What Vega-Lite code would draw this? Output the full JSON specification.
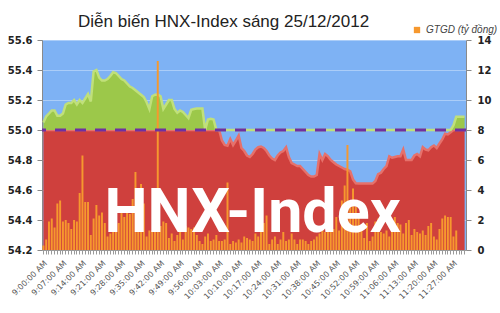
{
"$schema": "https://vega.github.io/schema/vega-lite/v6.json",
"width": 424, "height": 210,
"autosize": {"type": "none"},
"padding": {"left": 42, "top": 40, "right": 34, "bottom": 63},
"background": "white",
"config": {"view": {"fill": "#7eb2f4", "stroke": null}},
"title": {"text": "Diễn biến HNX-Index sáng 25/12/2012", "anchor": "start", "frame": "group", "font": "Liberation Sans", "fontSize": 17, "fontWeight": "normal", "color": "#222222", "dx": 36, "baseline": "alphabetic", "offset": 0, "dy": 19},
"data": {"values": [
{"t":"9:00:00 AM","idx":55.05,"vol":0.3},{"t":"9:01:00 AM","idx":55.09,"vol":0.7},{"t":"9:02:00 AM","idx":55.11,"vol":1.9},{"t":"9:03:00 AM","idx":55.13,"vol":2.1},{"t":"9:04:00 AM","idx":55.13,"vol":1.5},{"t":"9:05:00 AM","idx":55.095,"vol":3.1},{"t":"9:06:00 AM","idx":55.095,"vol":3.3},{"t":"9:07:00 AM","idx":55.11,"vol":1.9},{"t":"9:08:00 AM","idx":55.17,"vol":2.0},{"t":"9:09:00 AM","idx":55.18,"vol":1.8},
{"t":"9:10:00 AM","idx":55.18,"vol":1.4},{"t":"9:11:00 AM","idx":55.2,"vol":2.0},{"t":"9:12:00 AM","idx":55.17,"vol":1.9},{"t":"9:13:00 AM","idx":55.2,"vol":3.8},{"t":"9:14:00 AM","idx":55.18,"vol":6.3},{"t":"9:15:00 AM","idx":55.21,"vol":3.2},{"t":"9:16:00 AM","idx":55.24,"vol":3.2},{"t":"9:17:00 AM","idx":55.19,"vol":1.0},{"t":"9:18:00 AM","idx":55.39,"vol":2.1},{"t":"9:19:00 AM","idx":55.4,"vol":3.0},
{"t":"9:20:00 AM","idx":55.35,"vol":2.3},{"t":"9:21:00 AM","idx":55.33,"vol":2.5},{"t":"9:22:00 AM","idx":55.33,"vol":1.8},{"t":"9:23:00 AM","idx":55.34,"vol":0.9},{"t":"9:24:00 AM","idx":55.36,"vol":1.1},{"t":"9:25:00 AM","idx":55.385,"vol":1.5},{"t":"9:26:00 AM","idx":55.38,"vol":1.2},{"t":"9:27:00 AM","idx":55.36,"vol":1.8},{"t":"9:28:00 AM","idx":55.34,"vol":2.9},{"t":"9:29:00 AM","idx":55.33,"vol":2.2},
{"t":"9:30:00 AM","idx":55.31,"vol":2.5},{"t":"9:31:00 AM","idx":55.29,"vol":2.4},{"t":"9:32:00 AM","idx":55.28,"vol":3.4},{"t":"9:33:00 AM","idx":55.265,"vol":5.2},{"t":"9:34:00 AM","idx":55.25,"vol":2.0},{"t":"9:35:00 AM","idx":55.235,"vol":4.4},{"t":"9:36:00 AM","idx":55.22,"vol":3.1},{"t":"9:37:00 AM","idx":55.185,"vol":0.9},{"t":"9:38:00 AM","idx":55.14,"vol":1.3},{"t":"9:39:00 AM","idx":55.225,"vol":1.3},
{"t":"9:40:00 AM","idx":55.235,"vol":1.5},{"t":"9:41:00 AM","idx":55.237,"vol":12.6},{"t":"9:42:00 AM","idx":55.225,"vol":1.6},{"t":"9:43:00 AM","idx":55.14,"vol":1.9},{"t":"9:44:00 AM","idx":55.17,"vol":1.8},{"t":"9:45:00 AM","idx":55.2,"vol":0.8},{"t":"9:46:00 AM","idx":55.2,"vol":1.1},{"t":"9:47:00 AM","idx":55.14,"vol":0.6},{"t":"9:48:00 AM","idx":55.115,"vol":1.0},{"t":"9:49:00 AM","idx":55.13,"vol":1.2},
{"t":"9:50:00 AM","idx":55.12,"vol":0.7},{"t":"9:51:00 AM","idx":55.1,"vol":1.6},{"t":"9:52:00 AM","idx":55.08,"vol":1.5},{"t":"9:53:00 AM","idx":55.135,"vol":1.4},{"t":"9:54:00 AM","idx":55.14,"vol":1.5},{"t":"9:55:00 AM","idx":55.143,"vol":1.0},{"t":"9:56:00 AM","idx":55.143,"vol":0.6},{"t":"9:57:00 AM","idx":55.143,"vol":0.4},{"t":"9:58:00 AM","idx":55.0,"vol":0.9},{"t":"9:59:00 AM","idx":55.07,"vol":1.1},
{"t":"10:00:00 AM","idx":55.075,"vol":0.6},{"t":"10:01:00 AM","idx":55.07,"vol":0.7},{"t":"10:02:00 AM","idx":55.0,"vol":1.0},{"t":"10:03:00 AM","idx":55.0,"vol":0.6},{"t":"10:04:00 AM","idx":54.93,"vol":0.6},{"t":"10:05:00 AM","idx":54.9,"vol":0.7},{"t":"10:06:00 AM","idx":54.895,"vol":4.5},{"t":"10:07:00 AM","idx":54.94,"vol":0.4},{"t":"10:08:00 AM","idx":54.9,"vol":0.6},{"t":"10:09:00 AM","idx":54.93,"vol":0.5},
{"t":"10:10:00 AM","idx":54.963,"vol":0.7},{"t":"10:11:00 AM","idx":54.88,"vol":0.5},{"t":"10:12:00 AM","idx":54.86,"vol":0.9},{"t":"10:13:00 AM","idx":54.83,"vol":0.8},{"t":"10:14:00 AM","idx":54.82,"vol":0.7},{"t":"10:15:00 AM","idx":54.84,"vol":0.6},{"t":"10:16:00 AM","idx":54.87,"vol":1.1},{"t":"10:17:00 AM","idx":54.885,"vol":0.9},{"t":"10:18:00 AM","idx":54.89,"vol":1.3},{"t":"10:19:00 AM","idx":54.88,"vol":1.8},
{"t":"10:20:00 AM","idx":54.86,"vol":2.3},{"t":"10:21:00 AM","idx":54.83,"vol":0.4},{"t":"10:22:00 AM","idx":54.81,"vol":0.7},{"t":"10:23:00 AM","idx":54.8,"vol":0.9},{"t":"10:24:00 AM","idx":54.83,"vol":0.4},{"t":"10:25:00 AM","idx":54.85,"vol":0.7},{"t":"10:26:00 AM","idx":54.86,"vol":1.2},{"t":"10:27:00 AM","idx":54.885,"vol":0.6},{"t":"10:28:00 AM","idx":54.82,"vol":0.7},{"t":"10:29:00 AM","idx":54.78,"vol":1.1},
{"t":"10:30:00 AM","idx":54.77,"vol":0.7},{"t":"10:31:00 AM","idx":54.76,"vol":0.4},{"t":"10:32:00 AM","idx":54.76,"vol":0.7},{"t":"10:33:00 AM","idx":54.74,"vol":0.7},{"t":"10:34:00 AM","idx":54.72,"vol":0.6},{"t":"10:35:00 AM","idx":54.7,"vol":0.4},{"t":"10:36:00 AM","idx":54.69,"vol":0.6},{"t":"10:37:00 AM","idx":54.69,"vol":0.7},{"t":"10:38:00 AM","idx":54.7,"vol":0.9},{"t":"10:39:00 AM","idx":54.84,"vol":1.1},
{"t":"10:40:00 AM","idx":54.8,"vol":1.3},{"t":"10:41:00 AM","idx":54.84,"vol":1.2},{"t":"10:42:00 AM","idx":54.825,"vol":1.8},{"t":"10:43:00 AM","idx":54.8,"vol":3.2},{"t":"10:44:00 AM","idx":54.785,"vol":1.4},{"t":"10:45:00 AM","idx":54.77,"vol":2.2},{"t":"10:46:00 AM","idx":54.76,"vol":1.3},{"t":"10:47:00 AM","idx":54.75,"vol":3.3},{"t":"10:48:00 AM","idx":54.74,"vol":4.3},{"t":"10:49:00 AM","idx":54.735,"vol":7.0},
{"t":"10:50:00 AM","idx":54.725,"vol":3.1},{"t":"10:51:00 AM","idx":54.67,"vol":4.1},{"t":"10:52:00 AM","idx":54.645,"vol":2.9},{"t":"10:53:00 AM","idx":54.643,"vol":2.3},{"t":"10:54:00 AM","idx":54.643,"vol":1.4},{"t":"10:55:00 AM","idx":54.643,"vol":0.8},{"t":"10:56:00 AM","idx":54.643,"vol":1.8},{"t":"10:57:00 AM","idx":54.643,"vol":0.6},{"t":"10:58:00 AM","idx":54.643,"vol":0.9},{"t":"10:59:00 AM","idx":54.66,"vol":1.9},
{"t":"11:00:00 AM","idx":54.705,"vol":2.1},{"t":"11:01:00 AM","idx":54.715,"vol":1.2},{"t":"11:02:00 AM","idx":54.74,"vol":1.1},{"t":"11:03:00 AM","idx":54.76,"vol":1.3},{"t":"11:04:00 AM","idx":54.825,"vol":0.9},{"t":"11:05:00 AM","idx":54.815,"vol":1.4},{"t":"11:06:00 AM","idx":54.82,"vol":2.2},{"t":"11:07:00 AM","idx":54.825,"vol":1.8},{"t":"11:08:00 AM","idx":54.825,"vol":1.7},{"t":"11:09:00 AM","idx":54.87,"vol":1.1},
{"t":"11:10:00 AM","idx":54.8,"vol":1.8},{"t":"11:11:00 AM","idx":54.8,"vol":2.0},{"t":"11:12:00 AM","idx":54.8,"vol":1.0},{"t":"11:13:00 AM","idx":54.83,"vol":1.4},{"t":"11:14:00 AM","idx":54.84,"vol":1.2},{"t":"11:15:00 AM","idx":54.825,"vol":1.1},{"t":"11:16:00 AM","idx":54.885,"vol":1.3},{"t":"11:17:00 AM","idx":54.87,"vol":1.0},{"t":"11:18:00 AM","idx":54.865,"vol":1.6},{"t":"11:19:00 AM","idx":54.885,"vol":1.8},
{"t":"11:20:00 AM","idx":54.897,"vol":0.9},{"t":"11:21:00 AM","idx":54.88,"vol":0.7},{"t":"11:22:00 AM","idx":54.91,"vol":1.4},{"t":"11:23:00 AM","idx":54.937,"vol":2.1},{"t":"11:24:00 AM","idx":54.975,"vol":2.3},{"t":"11:25:00 AM","idx":54.97,"vol":2.2},{"t":"11:26:00 AM","idx":54.985,"vol":2.2},{"t":"11:27:00 AM","idx":55.03,"vol":0.9},{"t":"11:28:00 AM","idx":55.088,"vol":1.3},{"t":"11:29:00 AM","idx":55.088,"vol":0},
{"t":"11:30:00 AM","idx":55.088,"vol":0},{"t":"11:31:00 AM","idx":55.088,"vol":0}
]},
"layer": [
{
 "mark": {"type": "area", "color": "#cf403d", "opacity": 1, "line": {"color": "#e6716b", "strokeWidth": 2.5}},
 "encoding": {
  "x": {"field": "t", "type": "ordinal", "sort": null, "scale": {"type": "band", "paddingInner": 0, "paddingOuter": 0},
   "axis": {"title": null, "labelAngle": -45, "labelOverlap": false, "labelExpr": "indexof(['9:00:00 AM','9:07:00 AM','9:14:00 AM','9:21:00 AM','9:28:00 AM','9:35:00 AM','9:42:00 AM','9:49:00 AM','9:56:00 AM','10:03:00 AM','10:10:00 AM','10:17:00 AM','10:24:00 AM','10:31:00 AM','10:38:00 AM','10:45:00 AM','10:52:00 AM','10:59:00 AM','11:06:00 AM','11:13:00 AM','11:20:00 AM','11:27:00 AM'], datum.label) >= 0 ? datum.label : ''", "labelFont": "DejaVu Sans", "labelFontSize": 8, "labelColor": "#555555", "tickSize": 4, "tickColor": "#9a9a9a", "domainColor": "#9a9a9a", "labelPadding": 5}},
  "y": {"field": "idx", "type": "quantitative", "scale": {"domain": [54.2, 55], "range": [210, 90], "clamp": true, "nice": false, "zero": false}, "axis": null},
  "y2": {"datum": 54.2}
 }
},
{
 "mark": {"type": "area", "color": "#9cc84a", "opacity": 1, "line": {"color": "#c0e07a", "strokeWidth": 2.5}},
 "encoding": {
  "x": {"field": "t", "type": "ordinal", "sort": null, "scale": {"type": "band", "paddingInner": 0, "paddingOuter": 0},
   "axis": {"title": null, "labelAngle": -45, "labelOverlap": false, "labelExpr": "indexof(['9:00:00 AM','9:07:00 AM','9:14:00 AM','9:21:00 AM','9:28:00 AM','9:35:00 AM','9:42:00 AM','9:49:00 AM','9:56:00 AM','10:03:00 AM','10:10:00 AM','10:17:00 AM','10:24:00 AM','10:31:00 AM','10:38:00 AM','10:45:00 AM','10:52:00 AM','10:59:00 AM','11:06:00 AM','11:13:00 AM','11:20:00 AM','11:27:00 AM'], datum.label) >= 0 ? datum.label : ''", "labelFont": "DejaVu Sans", "labelFontSize": 8, "labelColor": "#555555", "tickSize": 4, "tickColor": "#9a9a9a", "domainColor": "#9a9a9a", "labelPadding": 5}},
  "y": {"field": "idx", "type": "quantitative", "scale": {"domain": [55, 55.6], "range": [90, 0], "clamp": true, "nice": false, "zero": false}, "axis": null},
  "y2": {"datum": 55}
 }
},
{
 "mark": {"type": "bar", "width": {"band": 0.7}},
 "encoding": {
  "x": {"field": "t", "type": "ordinal", "sort": null, "scale": {"type": "band", "paddingInner": 0, "paddingOuter": 0},
   "axis": {"title": null, "labelAngle": -45, "labelOverlap": false, "labelExpr": "indexof(['9:00:00 AM','9:07:00 AM','9:14:00 AM','9:21:00 AM','9:28:00 AM','9:35:00 AM','9:42:00 AM','9:49:00 AM','9:56:00 AM','10:03:00 AM','10:10:00 AM','10:17:00 AM','10:24:00 AM','10:31:00 AM','10:38:00 AM','10:45:00 AM','10:52:00 AM','10:59:00 AM','11:06:00 AM','11:13:00 AM','11:20:00 AM','11:27:00 AM'], datum.label) >= 0 ? datum.label : ''", "labelFont": "DejaVu Sans", "labelFontSize": 8, "labelColor": "#555555", "tickSize": 4, "tickColor": "#9a9a9a", "domainColor": "#9a9a9a", "labelPadding": 5}},
  "y": {"field": "vol", "type": "quantitative", "scale": {"domain": [0, 14], "nice": false},
   "axis": {"orient": "right", "values": [0, 2, 4, 6, 8, 10, 12, 14], "title": null, "grid": false, "labelFont": "DejaVu Sans", "labelFontWeight": "bold", "labelFontSize": 10, "labelColor": "#222222", "tickColor": "#8a8a8a", "tickSize": 5, "domainColor": "#8a8a8a", "labelPadding": 6}},
  "color": {"datum": "GTGD (tỷ đồng)", "type": "nominal", "scale": {"range": ["#f6982e"]},
   "legend": {"orient": "none", "legendX": 370, "legendY": -15, "title": null, "symbolType": "square", "symbolSize": 40, "labelFont": "Liberation Sans", "labelFontStyle": "italic", "labelFontSize": 10, "labelColor": "#444444", "labelOffset": 4}}
 }
},
{
 "data": {"values": [{}]},
 "mark": {"type": "rule", "color": "#7030a0", "strokeWidth": 3, "strokeDash": [11, 9]},
 "encoding": {
  "y": {"datum": 55, "type": "quantitative", "scale": {"domain": [54.2, 55.6], "nice": false, "zero": false},
   "axis": {"orient": "left", "values": [54.2, 54.4, 54.6, 54.8, 55.0, 55.2, 55.4, 55.6], "format": ".1f", "title": null, "grid": true, "gridColor": "#ffffff", "gridOpacity": 0.35, "labelFont": "DejaVu Sans", "labelFontWeight": "bold", "labelFontSize": 10, "labelColor": "#222222", "tickColor": "#8a8a8a", "tickSize": 5, "domainColor": "#8a8a8a", "labelPadding": 5}}
 }
},
{
 "data": {"values": [{}]},
 "mark": {"type": "text", "text": "HNX-Index", "font": "Roboto", "fontWeight": "bold", "fontSize": 61, "color": "#ffffff", "align": "center", "baseline": "alphabetic"},
 "encoding": {
  "x": {"datum": "10:15:00 AM", "type": "ordinal", "scale": {"type": "band", "paddingInner": 0, "paddingOuter": 0},
   "axis": {"title": null, "labelAngle": -45, "labelOverlap": false, "labelExpr": "indexof(['9:00:00 AM','9:07:00 AM','9:14:00 AM','9:21:00 AM','9:28:00 AM','9:35:00 AM','9:42:00 AM','9:49:00 AM','9:56:00 AM','10:03:00 AM','10:10:00 AM','10:17:00 AM','10:24:00 AM','10:31:00 AM','10:38:00 AM','10:45:00 AM','10:52:00 AM','10:59:00 AM','11:06:00 AM','11:13:00 AM','11:20:00 AM','11:27:00 AM'], datum.label) >= 0 ? datum.label : ''", "labelFont": "DejaVu Sans", "labelFontSize": 8, "labelColor": "#555555", "tickSize": 4, "tickColor": "#9a9a9a", "domainColor": "#9a9a9a", "labelPadding": 5}},
  "y": {"datum": 54.322, "type": "quantitative", "scale": {"domain": [54.2, 55.6], "nice": false, "zero": false}, "axis": null}
 }
}
],
"resolve": {"scale": {"y": "independent"}}
}
